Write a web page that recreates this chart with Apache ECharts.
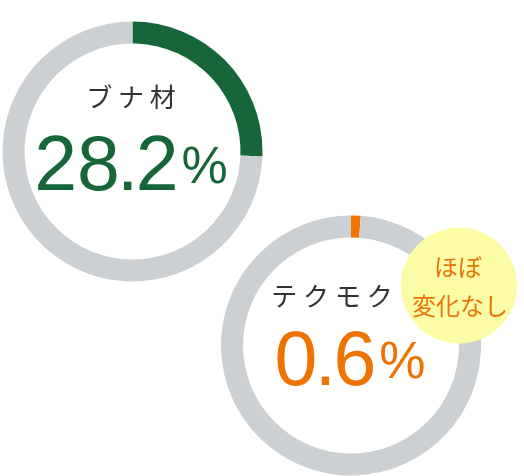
<!DOCTYPE html>
<html lang="ja">
<head>
    <meta charset="UTF-8">
    <title>share</title>
    <script src="https://cdn.jsdelivr.net/npm/echarts@6/dist/echarts.min.js"></script>
    <style>
        html, body { margin: 0; padding: 0; background: #fff; }
    </style>
</head>
<body>
<div id="main" style="width: 524px;height:476px;"></div>
<script>
    // 樹種名と表示する割合
    let names = ['ブナ材', 'テクモク'];
    let labels = ['28.2', '0.6'];
    // リングの塗り（画像から読み取った弧の長さ、%）
    let arcs = [25.6, 1.2];
    let colors = ['#17663a', '#ef7300'];
    let badge = ['ほぼ', '変化なし'];

    let chart = echarts.init(document.getElementById('main'));

    let centers = [[132.5, 151.5], [351, 345.5]];

    function ring(i) {
        return {
            type: 'pie',
            center: centers[i],
            radius: [108, 130],
            startAngle: 90,
            clockwise: true,
            silent: true,
            label: {show: false},
            labelLine: {show: false},
            itemStyle: {borderWidth: 0},
            data: [
                {value: arcs[i], itemStyle: {color: colors[i]}},
                {value: 100 - arcs[i], itemStyle: {color: '#cdd0d3'}}
            ]
        };
    }

    let font = '"Liberation Sans", Arial, sans-serif';
    let jp = '"Noto Sans CJK JP", sans-serif';

    // 数字は小数点まわりを詰めて描く
    function bigNumber(i, x, y) {
        let parts = labels[i].split('.');
        return {
            type: 'text', x: x, y: y, z: 10,
            style: {
                text: '{n|' + parts[0] + '}{d|.}{n|' + parts[1] + '}{p|%}',
                align: 'center', verticalAlign: 'middle',
                rich: {
                    n: {fontSize: 77, fontFamily: font, fill: colors[i]},
                    d: {fontSize: 77, fontFamily: font, fill: colors[i], width: 16, align: 'center'},
                    p: {fontSize: 52, fontFamily: font, fill: colors[i], padding: [0, 0, 0, 3]}
                }
            }
        };
    }

    function name(i, x, y) {
        return {
            type: 'text', x: x, y: y, z: 10,
            style: {
                text: names[i].split('').join(' '), fill: '#333',
                font: '26px ' + jp,
                align: 'center', verticalAlign: 'middle'
            }
        };
    }

    let option = {
        animation: false,
        series: [ring(0), ring(1)],
        graphic: [
            name(0, 131, 97),
            bigNumber(0, 131, 169),
            name(1, 332, 296),
            bigNumber(1, 350, 364),
            {
                type: 'circle', z: 20,
                shape: {cx: 459, cy: 285.5, r: 58},
                style: {fill: '#fdfca6'}
            },
            {
                type: 'text', x: 458, y: 267, z: 21,
                style: {
                    text: badge[0], fill: '#e8730a',
                    font: '24px ' + jp,
                    align: 'center', verticalAlign: 'middle'
                }
            },
            {
                type: 'text', x: 460, y: 306, z: 21,
                style: {
                    text: badge[1], fill: '#e8730a',
                    font: '24px ' + jp,
                    align: 'center', verticalAlign: 'middle'
                }
            }
        ]
    };

    chart.setOption(option);
</script>
</body>
</html>
